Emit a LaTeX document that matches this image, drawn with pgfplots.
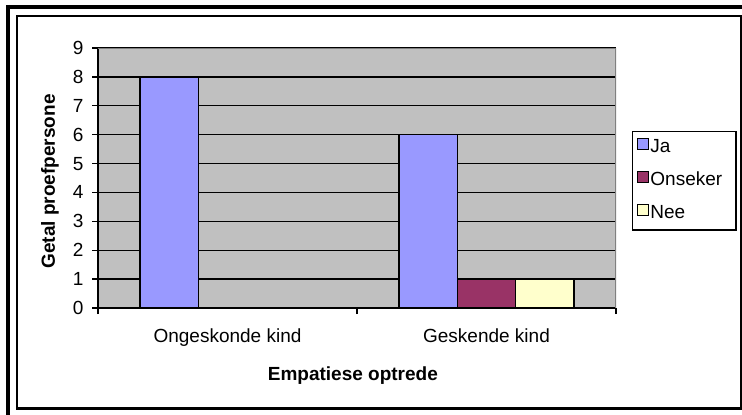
\documentclass[border=0pt]{standalone}
\usepackage{fontspec}
\setmainfont{Liberation Sans}
\usepackage{pgfplots}
\pgfplotsset{compat=1.18}
\definecolor{plotgray}{HTML}{C0C0C0}
\definecolor{ja}{HTML}{9999FF}
\definecolor{onseker}{HTML}{993366}
\definecolor{nee}{HTML}{FFFFCC}
\newcommand{\chartfont}{\fontsize{19bp}{22bp}\selectfont}
\begin{document}
\begin{tikzpicture}
  \path[use as bounding box, fill=white] (0bp,0bp) rectangle (742bp,415bp);
  % frame
  \draw[line width=4bp] (6bp,408bp) -- (742bp,408bp);
  \draw[line width=4bp] (8bp,410bp) -- (8bp,0bp);
  \draw[line width=1.8bp] (17bp,6bp) rectangle (741bp,399bp);
  \draw[line width=3bp] (17bp,6bp) -- (741bp,6bp);
\begin{axis}[
  at={(98bp,107bp)}, anchor=south west,
  scale only axis, width=518bp, height=260bp,
  font=\chartfont,
  ticklabel style={font=\chartfont},
  /pgf/number format/assume math mode=true,
  axis background/.style={fill=plotgray},
  ybar=0pt, bar width=0.225,
  xmin=-0.5, xmax=1.5, ymin=0, ymax=9,
  ytick={0,...,9},
  xtick={0,1}, xticklabels={Ongeskonde kind, Geskende kind},
  xtick style={draw=none},
  extra x ticks={-0.5,0.5,1.5}, extra x tick labels={},
  extra x tick style={xtick style={draw=black, line width=1.3bp}},
  tick align=outside, major tick length=6bp,
  ytick style={line width=1.3bp, black},
  axis x line*=bottom, axis y line*=left,
  axis line style={line width=1.5bp},
  ymajorgrids, grid style={black, line width=1.3bp},
  xticklabel style={anchor=base, yshift=-28bp},
  yticklabel style={anchor=east, xshift=-5bp},
  xlabel={\bfseries Empatiese optrede},
  ylabel={\bfseries Getal proefpersone},
  xlabel style={at={(axis description cs:0.492,-0.2615)}, anchor=center},
  ylabel style={at={(axis description cs:-0.0927,0.4865)}, anchor=center},
  legend style={at={(1.031,0.681)}, anchor=north west, draw=black,
    line width=1.3bp, fill=white, inner xsep=4bp, inner ysep=6bp,
    row sep=13bp, font=\chartfont,
    nodes={inner xsep=1.5bp, inner ysep=1bp, text height=13bp, text depth=4bp}},
  legend cell align=left,
  legend image code/.code={\draw[#1, draw=black, line width=1.2bp] (0bp,-1bp) rectangle (11bp,10bp);},
]
  \addplot[fill=ja, draw=black, line width=1.3bp] coordinates {(0,8) (1,6)};
  \addlegendentry{Ja\hspace*{60bp}}
  \addplot[fill=onseker, draw=black, line width=1.3bp] coordinates {(0,0) (1,1)};
  \addlegendentry{Onseker\hspace*{8bp}}
  \addplot[fill=nee, draw=black, line width=1.3bp] coordinates {(0,0) (1,1)};
  \addlegendentry{Nee\hspace*{45bp}}
  \draw[gray, line width=1.3bp] (rel axis cs:0,1) -- (rel axis cs:1,1) -- (rel axis cs:1,0);
\end{axis}
\end{tikzpicture}
\end{document}
